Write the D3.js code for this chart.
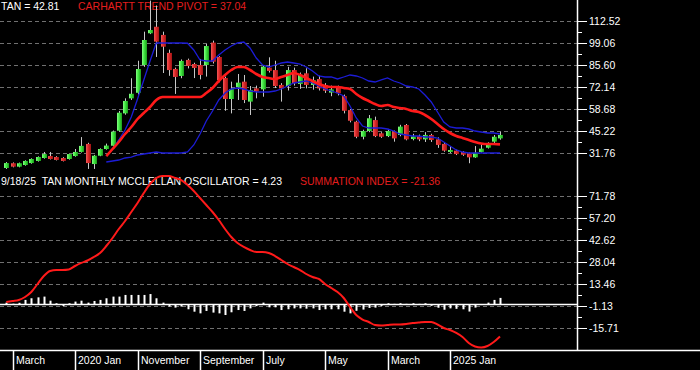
<!DOCTYPE html>
<html><head><meta charset="utf-8">
<script src="https://cdn.jsdelivr.net/npm/d3@7"></script>
<style>html,body{margin:0;padding:0;background:#000;}svg{display:block}</style>
</head><body>
<svg id="c" width="700" height="370"></svg>
<script>
// ---- DATA (monthly, Feb 2019 .. Sep 2025) ----
const firstMonth = "2019-02";
const lastMonth = "2025-09";
const open = [22.6,25.5,23.4,24.4,25.6,26.9,28.7,29.9,29.3,28.7, 28.1,29.9,32.4,37.3,25.0,30.1,34.2,36.2,45.4,56.0, 65.2,68.6,85.6,105.0,109.0,104.0,93.0,83.2,78.9,88.7, 86.2,85.6,85.6,99.3,90.5,77.65,64.8,72.0,75.4,63.2, 71.3,70.7,84.0,82.5,73.4,72.75,82.5,74.0,80.5,73.4, 77.0,73.4,68.7,72.0,66.6,58.0,50.9,41.7,45.2,51.9, 43.8,42.1,44.8,42.8,48.9,40.3,42.0,40.1,42.8,40.1, 37.3,32.4,33.2,32.4,31.6,29.1,32.4,35.0,38.7,40.7];
const high = [26.2,26.0,25.9,27.3,28.5,29.7,32.4,32.4,29.8,29.2, 31.5,34.2,41.5,38.0,30.6,34.6,37.5,45.5,57.5,65.2, 77.5,88.2,106.0,125.0,122.0,106.0,95.0,84.0,89.0,89.5, 87.0,89.3,98.5,100.5,91.0,78.5,75.4,80.1,79.5,72.75, 73.0,85.5,90.3,88.2,74.5,84.5,84.0,81.0,83.6,78.5, 79.0,74.5,73.0,73.0,67.5,58.5,51.5,46.0,55.0,54.0, 44.5,46.5,45.5,49.0,49.5,43.5,43.0,44.5,43.5,41.3, 37.8,36.0,33.8,32.9,32.0,36.0,37.0,38.3,42.8,44.8];
const low = [22.0,23.0,23.0,24.0,25.2,26.5,28.3,27.8,27.2,26.6, 27.7,29.5,32.0,22.0,22.0,29.8,33.8,35.8,44.8,55.2, 64.2,67.5,84.5,104.5,90.5,80.7,79.0,67.9,77.5,83.5, 77.6,76.8,78.5,86.5,75.0,57.6,56.0,64.2,62.3,55.0, 65.2,66.2,81.0,71.5,63.2,70.0,73.0,71.0,71.3,70.5, 70.0,68.5,66.5,67.0,56.0,50.5,40.8,40.1,44.5,41.5, 41.0,41.5,38.7,42.0,39.5,39.5,39.0,38.5,38.5,34.9, 32.5,31.8,30.5,30.0,25.5,28.8,32.0,34.5,37.0,39.9];
const close = [25.6,23.4,25.5,26.9,28.1,29.3,31.1,28.1,27.5,26.9, 31.1,32.4,36.1,25.6,30.1,34.2,36.3,44.8,56.4,63.6, 68.0,83.15,100.9,107.0,99.9,96.8,82.5,78.3,88.1,85.0, 83.8,79.5,97.2,87.6,76.4,64.8,70.9,74.8,64.2,70.3, 69.3,84.6,82.0,72.75,71.3,82.5,74.4,79.5,73.4,76.4, 71.3,69.9,70.7,68.3,57.6,51.5,41.7,45.2,53.0,42.1, 41.7,45.2,40.7,47.9,40.1,41.9,40.1,42.8,39.7,36.7, 33.2,33.6,31.1,30.7,29.1,31.9,34.4,37.0,41.7,42.81];
const N = null;
const upperBand = [N,N,N,N,N,N,N,N,N,N, N,N,N,N,N,N,29.9,34.21,39.72,45.83, 53.79,64.8,76.43,88.05,99.06,99.06,99.06,99.06,99.06,98.9, 94.78,88.66,88.05,88.05,91.72,94.78,97.23,99.06,99.67,96.0, 89.88,85.6,84.38,85.6,86.82,87.44,86.82,86.21,84.38,81.93, 78.87,78.26,78.26,77.04,78.26,79.48,78.87,77.65,75.81,75.2, 76.43,77.65,75.81,74.59,72.75,72.14,70.92,67.25,62.96,56.85, 50.73,47.67,47.05,47.05,46.44,45.22,44.61,44.0,44.0,43.38];
const lowerBand = [N,N,N,N,N,N,N,N,N,N, N,N,N,N,N,N,26.25,26.86,27.47,28.7, 29.3,30.54,31.15,31.76,32.37,31.76,31.76,31.76,31.76,32.37, 36.66,43.38,51.34,57.46,64.19,68.47,70.92,71.53,70.92,69.69, 69.08,69.08,69.08,69.69,70.92,72.75,74.59,75.2,75.81,74.59, 72.75,70.92,69.69,68.47,66.64,60.52,53.18,48.28,47.05,47.05, 47.05,46.44,45.22,43.38,42.77,42.16,42.16,41.55,41.55,40.94, 38.5,36.05,33.6,32.37,31.76,31.76,31.76,31.76,31.76,31.76];
const trendPivot = [N,N,N,N,N,N,N,N,N,N, N,N,N,N,N,N,29.9,34.21,38.5,43.38, 47.67,52.56,56.23,59.91,64.19,66.02,66.02,66.02,66.02,66.02, 66.02,66.02,68.47,71.53,75.81,79.48,82.54,84.38,84.38,82.54, 80.09,78.26,77.65,77.04,78.26,79.48,80.71,79.48,77.65,75.81, 73.98,72.75,72.14,72.14,71.53,70.92,67.86,65.41,63.58,61.74, 60.52,61.13,59.91,59.29,58.68,57.46,56.85,55.01,52.56,49.5, 46.44,44.0,42.16,40.94,39.72,38.5,37.6,37.27,37.27,37.04];
const oscillator = [1.1,0.4,1.0,2.9,4.0,4.6,5.1,2.4,0.7,-1.1, 0.7,1.8,2.4,1.1,2.2,2.9,4.0,5.1,5.1,6.2, 6.2,6.2,6.2,6.8,4.0,1.1,-1.5,-2.2,-1.5,-3.3, -4.9,-6.0,-4.4,-5.5,-6.0,-7.1,-5.3,-3.8,-4.4,-2.7, -1.2,1.1,-2.0,-2.0,-3.8,-3.3,-2.7,-2.7,-2.9,-2.7, -3.8,-3.3,-3.3,-3.3,-4.9,-6.0,-4.3,-3.5,-2.4,-2.2, -1.1,0.7,0.3,0.7,0.3,0.7,0.3,0.7,-1.0,-2.3, -3.6,-2.7,-3.0,-3.3,-4.8,-2.2,-0.5,1.1,2.9,4.23];
const summation = [1.52,2.19,2.85,4.84,8.15,13.45,18.76,22.07,22.73,22.73, 23.06,25.38,27.4,29.03,31.35,34.0,38.64,43.94,49.9,55.21, 61.18,67.14,73.77,79.73,83.71,85.04,85.04,83.71,82.38,79.07, 75.09,70.45,65.81,61.18,55.87,49.9,44.61,40.63,37.98,35.99, 34.66,34.66,34.0,32.01,29.36,26.71,24.72,22.73,20.08,18.09, 16.77,13.45,10.8,8.15,4.17,-1.8,-7.09,-10.08,-11.73,-13.72, -14.05,-13.72,-13.39,-13.39,-13.06,-12.4,-12.07,-11.73,-11.73,-13.39, -15.71,-17.04,-19.02,-21.67,-25.65,-27.97,-28.63,-27.64,-24.99,-21.36];
const topTicks = [31.76,45.22,58.68,72.14,85.60,99.06,112.52];
const bottomTicks = [-15.71,-1.13,13.46,28.04,42.62,57.20,71.78];
const dividerMonths = ["2019-03","2020-01","2020-11","2021-09","2022-07","2023-05","2024-03","2025-01"];
const dividerLabels = ["March","2020 Jan","November","September","July","May","March","2025 Jan"];
const titleTop = "TAN = 42.81";
const titlePivot = "CARHARTT TREND PIVOT = 37.04";
const titleOsc = "9/18/25  TAN MONTHLY MCCLELLAN OSCILLATOR = 4.23";
const titleSum = "SUMMATION INDEX = -21.36";

// ---- LAYOUT ----
const FONT = "'Liberation Sans', Arial, sans-serif";
const FS = "10.5px";
const PR = 577;
const parse = d3.timeParse("%Y-%m");
const months = d3.timeMonth.range(parse(firstMonth), d3.timeMonth.offset(parse(lastMonth), 1));
const idx = s => d3.timeMonth.count(months[0], parse(s));

const svg = d3.select("#c");
svg.append("rect").attr("width",700).attr("height",370).attr("fill","#000");
const defs = svg.append("defs");
function grad(id, stops){
  const g = defs.append("linearGradient").attr("id",id).attr("x1","0").attr("x2","1").attr("y1","0").attr("y2","0");
  stops.forEach(([o,c])=>g.append("stop").attr("offset",o).attr("stop-color",c));
}
grad("gUp",[["0%","#86ff86"],["45%","#3fe63f"],["100%","#1b9c1b"]]);
grad("gDn",[["0%","#f25a5a"],["45%","#dc2828"],["100%","#a01616"]]);
defs.append("clipPath").attr("id","clipTop").append("rect").attr("x",0).attr("y",0).attr("width",PR).attr("height",172);
defs.append("clipPath").attr("id","clipBot").append("rect").attr("x",0).attr("y",172).attr("width",PR).attr("height",178);

const x = d3.scaleLinear().domain([0, months.length-1]).range([6.3, 500]);
const yT = d3.scaleLinear().domain([31.76,112.52]).range([153,21]);
const yB = d3.scaleLinear().domain([-15.71,71.78]).range([328,196]);

// gridlines
const grid = svg.append("g").attr("stroke","#707070").attr("stroke-dasharray","4,3").attr("stroke-width",1);
topTicks.forEach(t=>grid.append("line").attr("x1",0).attr("x2",PR).attr("y1",Math.round(yT(t))+0.5).attr("y2",Math.round(yT(t))+0.5));
bottomTicks.forEach(t=>grid.append("line").attr("x1",0).attr("x2",PR).attr("y1",Math.round(yB(t))+0.5).attr("y2",Math.round(yB(t))+0.5));

// titles
const txt = (s,xx,yy,col)=>svg.append("text").attr("x",xx).attr("y",yy).attr("fill",col).style("font-family",FONT).style("font-size",FS).text(s);
txt(titleTop,1,10,"#ffffff");
txt(titlePivot,78,10,"#e41e1e");
txt(titleOsc,1,185,"#ffffff").style("white-space","pre");
txt(titleSum,300,185,"#e41e1e");

// ---- TOP PANEL ----
const topG = svg.append("g").attr("clip-path","url(#clipTop)");
const idxs = d3.range(months.length);
topG.append("g").selectAll("line").data(idxs).join("line")
  .attr("x1",i=>Math.round(x(i))+0.5).attr("x2",i=>Math.round(x(i))+0.5)
  .attr("y1",i=>yT(high[i])).attr("y2",i=>yT(low[i]))
  .attr("stroke","#c8c8c8").attr("stroke-width",1);
topG.append("g").selectAll("rect").data(idxs).join("rect")
  .attr("x",i=>Math.round(x(i))-2).attr("width",5)
  .attr("y",i=>yT(Math.max(open[i],close[i])))
  .attr("height",i=>Math.max(1.5, Math.abs(yT(open[i])-yT(close[i]))))
  .attr("fill",i=>close[i]>=open[i]?"url(#gUp)":"url(#gDn)");
const ln = yy => d3.line().defined(d=>d[1]!=null).x(d=>x(d[0])).y(d=>yy(d[1]));
const pts = arr => arr.map((v,i)=>[i,v]);
topG.append("path").attr("d",ln(yT)(pts(upperBand))).attr("fill","none").attr("stroke","#1c1cd6").attr("stroke-width",1.3);
topG.append("path").attr("d",ln(yT)(pts(lowerBand))).attr("fill","none").attr("stroke","#1c1cd6").attr("stroke-width",1.3);
topG.append("path").attr("d",ln(yT).curve(d3.curveMonotoneX)(pts(trendPivot))).attr("fill","none").attr("stroke","#ff1a1a").attr("stroke-width",2.6);

// ---- BOTTOM PANEL ----
const botG = svg.append("g").attr("clip-path","url(#clipBot)");
const z = Math.round(yB(0))+0.5;
botG.append("line").attr("x1",0).attr("x2",PR).attr("y1",z).attr("y2",z).attr("stroke","#fff").attr("stroke-width",1.5);
botG.append("g").selectAll("rect").data(idxs).join("rect")
  .attr("x",i=>Math.round(x(i))-0.5).attr("width",2)
  .attr("y",i=>Math.min(yB(0),yB(oscillator[i])))
  .attr("height",i=>Math.abs(yB(0)-yB(oscillator[i])))
  .attr("fill","#ffffff");
botG.append("path").attr("d",ln(yB).curve(d3.curveMonotoneX)(pts(summation))).attr("fill","none").attr("stroke","#ff1a1a").attr("stroke-width",2);

// ---- AXES ----
svg.append("line").attr("x1",PR+0.5).attr("x2",PR+0.5).attr("y1",0).attr("y2",350).attr("stroke","#fff").attr("stroke-width",1.5);
svg.append("line").attr("x1",0).attr("x2",700).attr("y1",350.5).attr("y2",350.5).attr("stroke","#fff").attr("stroke-width",1.5);
function rightAxis(scale, ticks){
  const g = svg.append("g").attr("transform",`translate(${PR},0)`)
    .call(d3.axisRight(scale).tickValues(ticks).tickSize(10).tickPadding(2).tickFormat(d=>d.toFixed(2)));
  g.select(".domain").remove();
  g.attr("font-family",null).attr("font-size",null);
  g.selectAll("line").attr("stroke","#fff");
  g.selectAll("text").attr("fill","#fff").style("font-family",FONT).style("font-size",FS);
  const minor = d3.pairs(ticks).map(([a,b])=>(a+b)/2);
  svg.append("g").selectAll("line").data(minor).join("line")
    .attr("x1",PR).attr("x2",PR+5).attr("y1",d=>Math.round(scale(d))+0.5).attr("y2",d=>Math.round(scale(d))+0.5)
    .attr("stroke","#fff");
}
rightAxis(yT, topTicks);
rightAxis(yB, bottomTicks);

const xa = svg.append("g");
dividerMonths.forEach((m,k)=>{
  const xx = Math.round(x(idx(m)))+0.5;
  xa.append("line").attr("x1",xx).attr("x2",xx).attr("y1",350).attr("y2",370).attr("stroke","#fff").attr("stroke-width",1.5);
  xa.append("text").attr("x",xx+2.5).attr("y",364).attr("fill","#fff").style("font-family",FONT).style("font-size",FS).text(dividerLabels[k]);
});
</script>
</body></html>
